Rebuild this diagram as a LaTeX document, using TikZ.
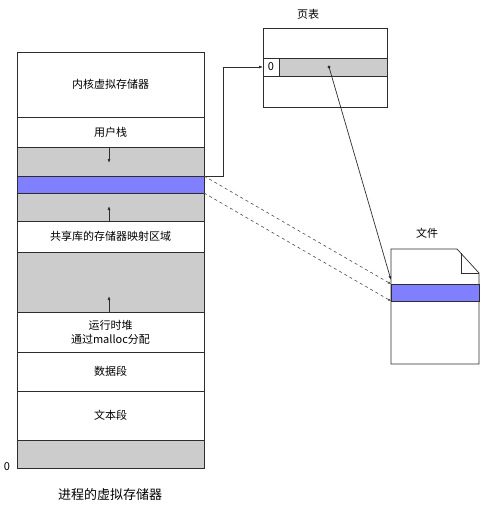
\documentclass[tikz,border=0pt]{standalone}
\usepackage{fontspec}
\setmainfont{Noto Sans CJK SC}
\usetikzlibrary{arrows.meta,positioning}
\definecolor{cGray}{RGB}{204,204,204}
\definecolor{cBlue}{RGB}{128,128,255}
\definecolor{cLine}{RGB}{45,45,45}
\tikzset{
  segbox/.style={rectangle,draw=cLine,line width=0.7pt,minimum width=187pt,
                 inner sep=0pt,outer sep=0pt,align=center,
                 font=\fontsize{11}{14}\selectfont},
  whiteseg/.style={segbox,fill=white},
  grayseg/.style={segbox,fill=cGray},
  blueseg/.style={segbox,fill=cBlue},
  lbl/.style={font=\fontsize{11}{13}\selectfont},
  arr/.style={-{Latex[length=4pt,width=3pt]},line width=0.7pt,color=cLine},
  dasharr/.style={-{Latex[length=3pt,width=2.5pt]},dash pattern=on 3pt off 3pt,
                  line width=0.6pt,color=cLine!85}
}
\begin{document}
\begin{tikzpicture}[x=1pt,y=-1pt,node distance=0pt]
  \useasboundingbox (0,0) rectangle (480,508);

  % process virtual memory
  \node[whiteseg,minimum height=65pt,anchor=north west] (kernel) at (17,52) {内核虚拟存储器};
  \node[whiteseg,minimum height=30pt,below=of kernel] (ustack) {用户栈};
  \node[grayseg,minimum height=29pt,below=of ustack] (gapa) {};
  \node[blueseg,minimum height=17pt,below=of gapa] (mapblue) {};
  \node[grayseg,minimum height=28pt,below=of mapblue] (gapb) {};
  \node[whiteseg,minimum height=31pt,below=of gapb] (shlib) {共享库的存储器映射区域};
  \node[grayseg,minimum height=60pt,below=of shlib] (gapc) {};
  \node[whiteseg,minimum height=40pt,below=of gapc] (heap) {运行时堆\\通过malloc分配};
  \node[whiteseg,minimum height=39pt,below=of heap] (data) {数据段};
  \node[whiteseg,minimum height=49pt,below=of data] (textseg) {文本段};
  \node[grayseg,minimum height=28pt,below=of textseg] (bottom) {};

  \node[lbl] (zero) at (7,467) {0};
  \node[font=\fontsize{13}{15}\selectfont] (caption) at (110,495) {进程的虚拟存储器};

  % growth arrows
  \draw[arr] ([xshift=-1.5pt]gapa.north) -- ++(0,16);
  \draw[arr] ([xshift=-1.5pt]gapb.south) -- ++(0,-15);
  \draw[arr] ([xshift=-1.5pt]gapc.south) -- ++(0,-16);

  % page table
  \node[lbl] (pttitle) at (308,14) {页表};
  \node[whiteseg,minimum width=124pt,minimum height=79pt,anchor=north west] (ptab) at (263,28) {};
  \node[whiteseg,minimum width=16pt,minimum height=18pt,anchor=north west] (pte0) at (263,58) {0};
  \node[grayseg,minimum width=108pt,minimum height=18pt,right=of pte0] (pte) {};
  \coordinate (ptdot) at ([xshift=-4pt]pte.center);
  \fill[cLine] (ptdot) circle (1.6pt);

  % file
  \node[lbl] (ftitle) at (427,233) {文件};
  \draw[cLine,line width=0.7pt,fill=white]
    (391,249) -- (457,249) -- (479,273) -- (479,364) -- (391,364) -- cycle;
  \draw[cLine,line width=0.7pt] (461,253.4) -- (461,273) -- (479,273);
  \node[blueseg,minimum width=88pt,minimum height=17pt,anchor=north west] (fband) at (391,284) {};

  % connectors
  \draw[arr] (mapblue.north east) -- ++(19,0) |- (pte0.west);
  \draw[dasharr] (mapblue.north east) -- (fband.north west);
  \draw[dasharr] (mapblue.south east) -- (fband.south west);
  \draw[arr] (ptdot) -- ([yshift=4pt]fband.north west);

\end{tikzpicture}
\end{document}
